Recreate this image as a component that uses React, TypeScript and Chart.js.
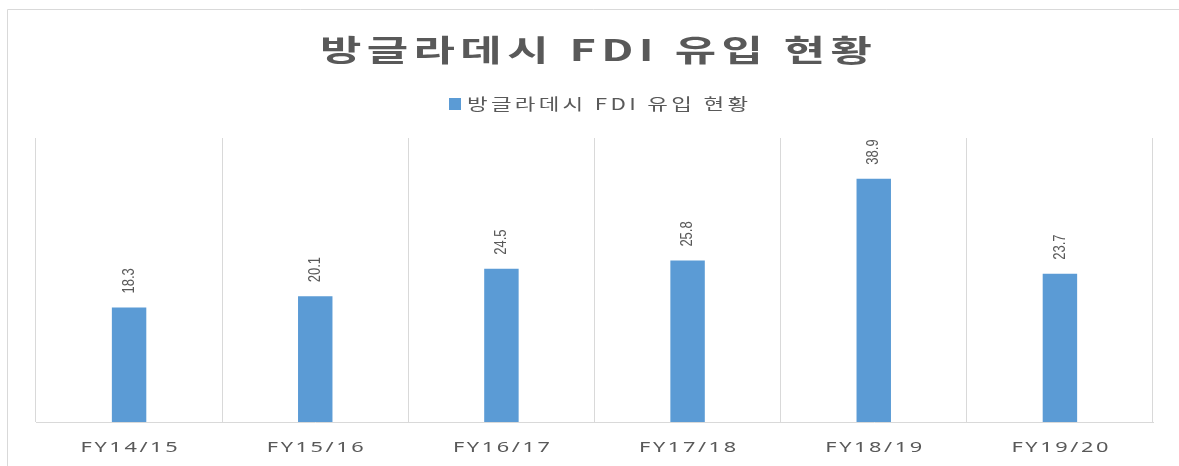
import React, { useEffect, useRef } from "react";
import { Chart, registerables } from "chart.js";

Chart.register(...registerables);

const chartTitle = "방글라데시 FDI 유입 현황";
const seriesName = "방글라데시 FDI 유입 현황";
const categories = ["FY14/15", "FY15/16", "FY16/17", "FY17/18", "FY18/19", "FY19/20"];
const fdiValues = [18.3, 20.1, 24.5, 25.8, 38.9, 23.7];
const yMin = 0;
const yMax = 45.4;

const TEXT = "#595959";
const GRID = "#D9D9D9";
const BAR = "#5B9BD5";
const KFONT = "'Noto Sans CJK KR', 'Noto Sans', sans-serif";

function drawFitted(
  ctx: CanvasRenderingContext2D,
  text: string,
  cx: number,
  y: number,
  font: string,
  targetW: number,
  scaleX: number
) {
  ctx.save();
  ctx.font = font;
  (ctx as any).letterSpacing = "0px";
  const w0 = ctx.measureText(text).width;
  const n = Array.from(text).length;
  const sp = n > 1 ? (targetW / scaleX - w0) / (n - 1) : 0;
  (ctx as any).letterSpacing = sp + "px";
  ctx.translate(cx, y);
  ctx.scale(scaleX, 1);
  ctx.textAlign = "left";
  ctx.textBaseline = "alphabetic";
  ctx.fillStyle = TEXT;
  ctx.fillText(text, -targetW / scaleX / 2, 0);
  ctx.restore();
}

const decorPlugin = {
  id: "decor",
  afterDraw(chart: any) {
    const ctx: CanvasRenderingContext2D = chart.ctx;
    const W = chart.width;
    const H = chart.height;
    // frame
    ctx.save();
    ctx.strokeStyle = GRID;
    ctx.lineWidth = 1;
    ctx.beginPath();
    ctx.moveTo(7.5, H);
    ctx.lineTo(7.5, 9.5);
    ctx.lineTo(W, 9.5);
    ctx.stroke();
    ctx.restore();

    // title
    drawFitted(ctx, chartTitle, 596, 61, `bold 30px ${KFONT}`, 552, 1.5);

    // legend
    ctx.save();
    ctx.fillStyle = BAR;
    ctx.fillRect(449, 98, 12, 12);
    ctx.restore();
    drawFitted(ctx, seriesName, 467 + 281 / 2, 110, `16px ${KFONT}`, 281, 1.4);

    // x labels
    const xs = chart.scales.x;
    categories.forEach((c, i) => {
      const px = xs.getPixelForValue(i);
      drawFitted(ctx, c, px, 452, `15px 'Noto Sans', sans-serif`, 97, 1.45);
    });

    // data labels (rotated)
    const meta = chart.getDatasetMeta(0);
    meta.data.forEach((bar: any, i: number) => {
      ctx.save();
      ctx.translate(bar.x, bar.y - 14);
      ctx.scale(1.3, 1);
      ctx.rotate(-Math.PI / 2);
      ctx.font = "13px 'Liberation Sans', sans-serif";
      ctx.fillStyle = TEXT;
      ctx.textAlign = "left";
      ctx.textBaseline = "middle";
      ctx.fillText(fdiValues[i].toFixed(1), 0, 0);
      ctx.restore();
    });
  },
};

export default function App() {
  const ref = useRef<HTMLCanvasElement>(null);
  useEffect(() => {
    document.body.style.margin = "0";
    const canvas = ref.current!;
    const chart = new Chart(canvas, {
      type: "bar",
      data: {
        labels: categories,
        datasets: [
          {
            label: seriesName,
            data: fdiValues,
            backgroundColor: BAR,
            borderWidth: 0,
            barPercentage: 0.185,
            categoryPercentage: 1,
          },
        ],
      },
      options: {
        responsive: false,
        animation: false,
        layout: { padding: { left: 36, right: 26, top: 138, bottom: 44 } },
        plugins: {
          legend: { display: false },
          title: { display: false },
          tooltip: { enabled: false },
        },
        scales: {
          x: {
            offset: true,
            grid: { display: true, color: GRID, drawTicks: false, offset: true },
            border: { display: true, color: GRID },
            ticks: { display: false },
          },
          y: {
            display: false,
            min: yMin,
            max: yMax,
          },
        },
      },
      plugins: [decorPlugin],
    });
    return () => chart.destroy();
  }, []);
  return (
    <div style={{ width: 1179, height: 466, background: "#fff" }}>
      <canvas ref={ref} width={1179} height={466} />
    </div>
  );
}
